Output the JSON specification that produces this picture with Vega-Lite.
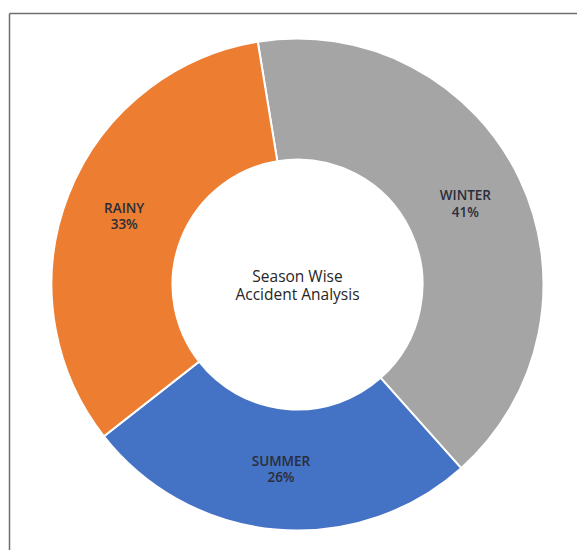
{
  "$schema": "https://vega.github.io/schema/vega-lite/v6.json",
  "width": 568,
  "height": 537,
  "padding": {"left": 9, "top": 13, "right": 0, "bottom": 0},
  "background": "white",
  "config": {"view": {"stroke": null}},
  "data": {
    "values": [
      {"season": "WINTER", "pct": 41},
      {"season": "SUMMER", "pct": 26},
      {"season": "RAINY", "pct": 33}
    ]
  },
  "transform": [
    {"calculate": "datum.season + '\\n' + datum.pct + '%'", "as": "label"}
  ],
  "layer": [
    {
      "mark": {"type": "arc", "outerRadius": 246, "innerRadius": 125, "stroke": "white", "strokeWidth": 2, "xOffset": 4.5, "yOffset": 3},
      "encoding": {
        "theta": {"field": "pct", "type": "quantitative", "stack": true, "scale": {"range": [-0.1623, 6.1209]}},
        "order": {"field": "season", "sort": "descending"},
        "color": {"field": "season", "type": "nominal", "legend": null,
          "scale": {"domain": ["WINTER", "SUMMER", "RAINY"], "range": ["#A5A5A5", "#4472C4", "#ED7D31"]}}
      }
    },
    {
      "mark": {"type": "text", "radius": 186, "xOffset": 4.5, "yOffset": -5, "font": "Open Sans", "fontSize": 13.5, "fontWeight": 600, "lineBreak": "\n", "lineHeight": 16.5, "align": "center", "baseline": "middle", "fill": "#2a2d3a"},
      "encoding": {
        "theta": {"field": "pct", "type": "quantitative", "stack": true},
        "order": {"field": "season", "sort": "descending"},
        "text": {"field": "label", "type": "nominal"}
      }
    },
    {
      "data": {"values": [{"t": "center"}]},
      "mark": {"type": "text", "xOffset": 4.5, "yOffset": -4.5, "font": "Open Sans", "fontSize": 15.5, "lineHeight": 17.5, "align": "center", "baseline": "middle", "fill": "#262626",
        "text": ["Season Wise", "Accident Analysis"]},
      "encoding": {
        "x": {"datum": 0.5, "type": "quantitative", "scale": {"domain": [0, 1]},
          "axis": {"orient": "top", "title": null, "labels": false, "ticks": false, "grid": false, "domain": true, "domainColor": "#6e6e6e", "domainWidth": 1.5}},
        "y": {"datum": 0.5, "type": "quantitative", "scale": {"domain": [0, 1]},
          "axis": {"orient": "left", "title": null, "labels": false, "ticks": false, "grid": false, "domain": true, "domainColor": "#6e6e6e", "domainWidth": 1.5}}
      }
    }
  ]
}
